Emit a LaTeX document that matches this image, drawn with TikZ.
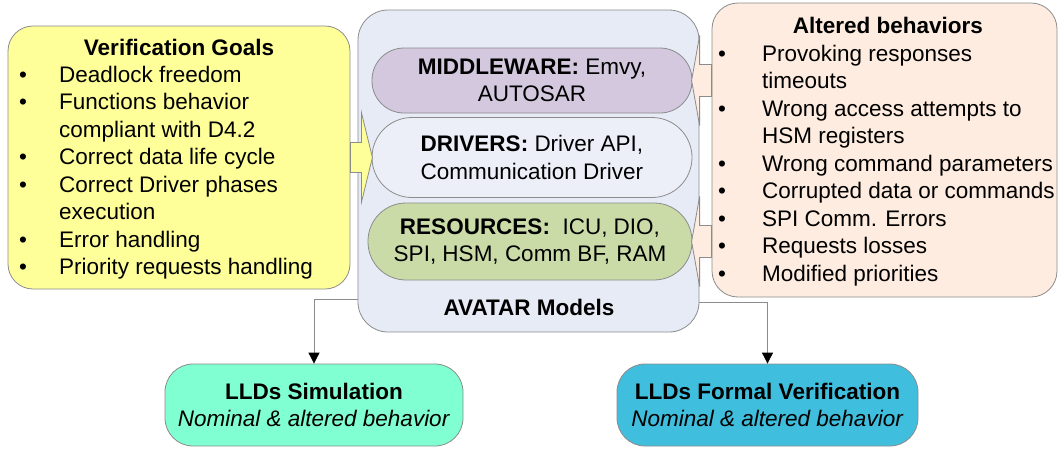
\documentclass[tikz,border=0pt]{standalone}
\usepackage{fontspec}
\setmainfont{Liberation Sans}
\usetikzlibrary{arrows.meta,calc}

\definecolor{goalyellow}{HTML}{FFFF99}
\definecolor{avatarblue}{HTML}{E7EBF6}
\definecolor{mwpurple}{HTML}{D3C8DE}
\definecolor{drvblue}{HTML}{ECEFF8}
\definecolor{resgreen}{HTML}{CADBA8}
\definecolor{altpeach}{HTML}{FDECDF}
\definecolor{simgreen}{HTML}{80FFD2}
\definecolor{formalblue}{HTML}{3FBFDD}
\definecolor{linegray}{HTML}{8C8C8C}

\tikzset{
  box/.style={draw=linegray, line width=0.8pt, inner sep=0pt},
  txt/.style={inner sep=0pt},
  blockarrow/.style={draw=linegray, line width=0.8pt, line join=miter},
  conn/.style={draw=linegray, line width=0.8pt, -{Triangle[length=11pt,width=11pt,color=black]}}
}

\begin{document}
\begin{tikzpicture}[x=1pt,y=-1pt,font=\fontsize{22.5}{27.5}\selectfont]
                \useasboundingbox (0,0) rectangle (1061,448);
                % AVATAR models
                \node[box, fill=avatarblue, rounded corners=30pt, minimum width=341pt, minimum height=322pt] (avatar) at (528.5,171) {};
                \node[box, fill=mwpurple, rounded corners=32pt, minimum width=320pt, minimum height=65pt, align=center] (mw) at (532,80.5) {\textbf{MIDDLEWARE:} Emvy,\\AUTOSAR};
                \node[box, fill=drvblue, rounded corners=40pt, minimum width=320pt, minimum height=80pt, align=center] (drv) at (532,157.5) {\textbf{DRIVERS:} Driver API,\\Communication Driver};
                \node[box, fill=resgreen, rounded corners=38pt, minimum width=324pt, minimum height=77pt, align=center] (res) at (530,241.5) {\textbf{RESOURCES:}\ \ ICU, DIO,\\SPI, HSM, Comm BF, RAM};
                \node[txt, anchor=base] (avatartitle) at (529,315) {\textbf{AVATAR Models}};

                % goals and altered behaviors
                \node[box, fill=goalyellow, rounded corners=25pt, minimum width=342pt, minimum height=263pt] (goals) at (179,157.5) {};
                \node[box, fill=altpeach, rounded corners=26pt, minimum width=345pt, minimum height=294pt] (alt) at (884.5,150) {};

                \draw[blockarrow, fill=goalyellow] (goals.east) ++(0,-15) -- ++(11,0) -- ++(0,-30) -- ++(11,45) -- ++(-11,45) -- ++(0,-30) -- ++(-11,0) -- cycle;
                \draw[blockarrow, fill=altpeach] (alt.west |- mw.east) ++(0,-16) -- ++(-12,0) -- ++(0,-29) -- ++(-8,45) -- ++(8,45) -- ++(0,-29) -- ++(12,0) -- cycle;
                \draw[blockarrow, fill=altpeach] (alt.west |- res.east) ++(0,-16) -- ++(-12,0) -- ++(0,-29) -- ++(-8,45) -- ++(8,45) -- ++(0,-29) -- ++(12,0) -- cycle;

                \node[txt, anchor=base] (goaltitle) at (179,55) {\textbf{Verification Goals}};
                \node[txt, anchor=base west] (goallist) at (19,82) {\begin{tabular}[t]{@{}c@{\hspace{32pt}}l@{}}
                    \textbullet & Deadlock freedom\\
                    \textbullet & Functions behavior\\
                                & compliant with D4.2\\
                    \textbullet & Correct data life cycle\\
                    \textbullet & Correct Driver phases\\
                                & execution\\
                    \textbullet & Error handling\\
                    \textbullet & Priority requests handling
                \end{tabular}};

                \node[txt, anchor=base] (alttitle) at (888,33) {\textbf{Altered behaviors}};
                \node[txt, anchor=base west] (altlist) at (718,61) {\begin{tabular}[t]{@{}c@{\hspace{36pt}}l@{}}
                    \textbullet & Provoking responses\\
                                & timeouts\\
                    \textbullet & Wrong access attempts to\\
                                & HSM registers\\
                    \textbullet & Wrong command parameters\\
                    \textbullet & Corrupted data or commands\\
                    \textbullet & SPI Comm. Errors\\
                    \textbullet & Requests losses\\
                    \textbullet & Modified priorities
                \end{tabular}};

                % LLDs
                \node[box, fill=simgreen, rounded corners=28pt, minimum width=298pt, minimum height=82pt, align=center] (sim) at (314,405) {\textbf{LLDs Simulation}\\\textit{Nominal \& altered behavior}};
                \node[box, fill=formalblue, rounded corners=28pt, minimum width=301pt, minimum height=82pt, align=center] (formal) at (767.5,405) {\textbf{LLDs Formal Verification}\\\textit{Nominal \& altered behavior}};

                \draw[conn] ([yshift=-128pt]avatar.west) -| (sim.north);
                \draw[conn] ([yshift=-131pt]avatar.east) -| (formal.north);
\end{tikzpicture}
\end{document}
